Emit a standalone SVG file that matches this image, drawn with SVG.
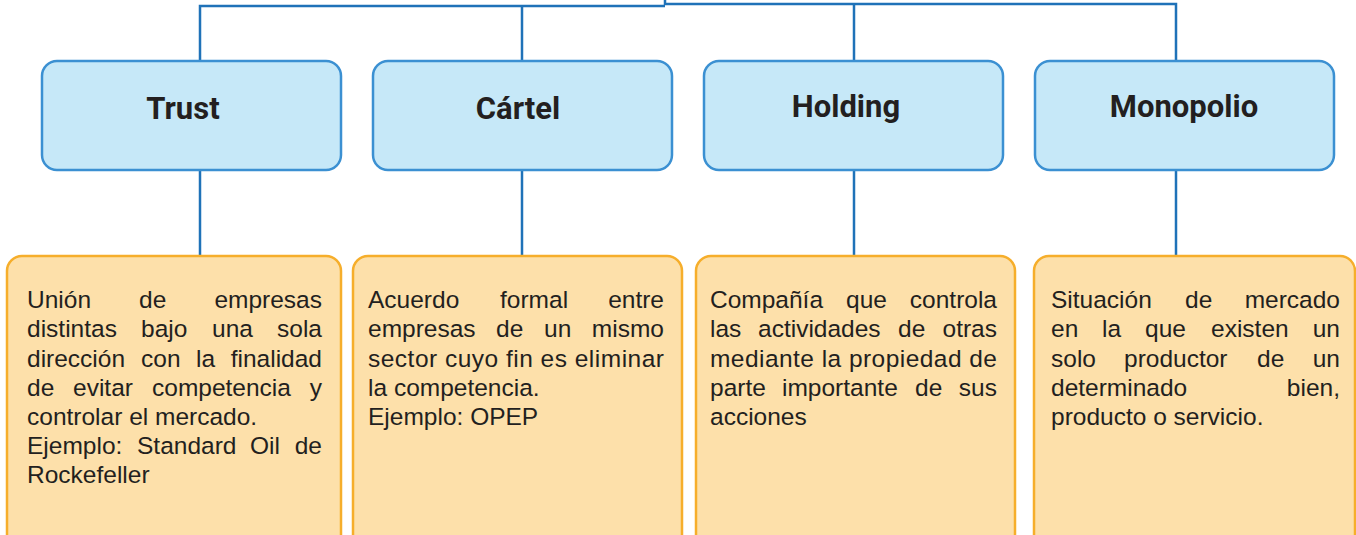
<svg xmlns="http://www.w3.org/2000/svg" width="1356" height="535" viewBox="0 0 1356 535">
<style>
.conn{fill:none;stroke:#1f72b8;stroke-width:2.5}
.head{fill:#c6e8f8;stroke:#3b90d2;stroke-width:2.5}
.desc{fill:#fde0aa;stroke:#f6ae2b;stroke-width:2.5}
.t{font-family:Roboto,"Liberation Sans",sans-serif;font-weight:bold;font-size:31px;fill:#231f20;text-anchor:middle}
.b{font-family:"Liberation Sans",Arial,sans-serif;font-size:24.5px;fill:#231f20}
.e{text-anchor:end}
</style>
<rect width="1356" height="535" fill="#ffffff"/>
<g id="connectors">
<polyline class="conn" points="200,60 200,6 665,6"/>
<polyline class="conn" points="665,0 665,4 1176,4 1176,60"/>
<line class="conn" x1="522" y1="6" x2="522" y2="60"/>
<line class="conn" x1="854" y1="4" x2="854" y2="60"/>
<line class="conn" x1="200" y1="170" x2="200" y2="256"/>
<line class="conn" x1="522" y1="170" x2="522" y2="256"/>
<line class="conn" x1="854" y1="170" x2="854" y2="256"/>
<line class="conn" x1="1176" y1="170" x2="1176" y2="256"/>
</g>
<g id="trust">
<rect class="head" x="42" y="61" width="299" height="109" rx="15"/>
<text class="t" x="183" y="119">Trust</text>
</g>
<g id="cartel">
<rect class="head" x="373" y="61" width="299" height="109" rx="15"/>
<text class="t" x="518" y="119">Cártel</text>
</g>
<g id="holding">
<rect class="head" x="704" y="61" width="299" height="109" rx="15"/>
<text class="t" x="846" y="117">Holding</text>
</g>
<g id="monopolio">
<rect class="head" x="1035" y="61" width="299" height="109" rx="15"/>
<text class="t" x="1184" y="117">Monopolio</text>
</g>
<g id="trust-desc">
<rect class="desc" x="7" y="256" width="334" height="295" rx="15"/>
<text class="b" x="27" y="308">Unión</text><text class="b" x="139" y="308">de</text><text class="b e" x="322" y="308">empresas</text>
<text class="b" x="27" y="337">distintas</text><text class="b" x="141" y="337">bajo</text><text class="b" x="212" y="337">una</text><text class="b e" x="322" y="337">sola</text>
<text class="b" x="27" y="367">dirección</text><text class="b" x="141" y="367">con</text><text class="b" x="196" y="367">la</text><text class="b e" x="322" y="367">finalidad</text>
<text class="b" x="27" y="396">de</text><text class="b" x="73" y="396">evitar</text><text class="b" x="152" y="396">competencia</text><text class="b e" x="322" y="396">y</text>
<text class="b" x="27" y="425">controlar el mercado.</text>
<text class="b" x="27" y="454">Ejemplo:</text><text class="b" x="137" y="454">Standard</text><text class="b" x="250" y="454">Oil</text><text class="b e" x="322" y="454">de</text>
<text class="b" x="27" y="483">Rockefeller</text>
</g>
<g id="cartel-desc">
<rect class="desc" x="353" y="256" width="329" height="295" rx="15"/>
<text class="b" x="368" y="308">Acuerdo</text><text class="b" x="500" y="308">formal</text><text class="b e" x="664" y="308">entre</text>
<text class="b" x="368" y="337">empresas</text><text class="b" x="496" y="337">de</text><text class="b" x="544" y="337">un</text><text class="b e" x="664" y="337">mismo</text>
<text class="b" x="368" y="367" textLength="296" lengthAdjust="spacing">sector cuyo fin es eliminar</text>
<text class="b" x="368" y="396">la competencia.</text>
<text class="b" x="368" y="425">Ejemplo: OPEP</text>
</g>
<g id="holding-desc">
<rect class="desc" x="696" y="256" width="319" height="295" rx="15"/>
<text class="b" x="710" y="308">Compañía</text><text class="b" x="846" y="308">que</text><text class="b e" x="997" y="308">controla</text>
<text class="b" x="710" y="337">las</text><text class="b" x="758" y="337">actividades</text><text class="b" x="898" y="337">de</text><text class="b e" x="997" y="337">otras</text>
<text class="b" x="710" y="367" textLength="287" lengthAdjust="spacing">mediante la propiedad de</text>
<text class="b" x="710" y="396">parte</text><text class="b" x="782" y="396">importante</text><text class="b" x="915" y="396">de</text><text class="b e" x="997" y="396">sus</text>
<text class="b" x="710" y="425">acciones</text>
</g>
<g id="monopolio-desc">
<rect class="desc" x="1034" y="256" width="321" height="295" rx="15"/>
<text class="b" x="1051" y="308">Situación</text><text class="b" x="1185" y="308">de</text><text class="b e" x="1340" y="308">mercado</text>
<text class="b" x="1051" y="337">en</text><text class="b" x="1102" y="337">la</text><text class="b" x="1145" y="337">que</text><text class="b" x="1211" y="337">existen</text><text class="b e" x="1340" y="337">un</text>
<text class="b" x="1051" y="367">solo</text><text class="b" x="1124" y="367">productor</text><text class="b" x="1257" y="367">de</text><text class="b e" x="1340" y="367">un</text>
<text class="b" x="1051" y="396">determinado</text><text class="b e" x="1340" y="396">bien,</text>
<text class="b" x="1051" y="425">producto o servicio.</text>
</g>
</svg>
